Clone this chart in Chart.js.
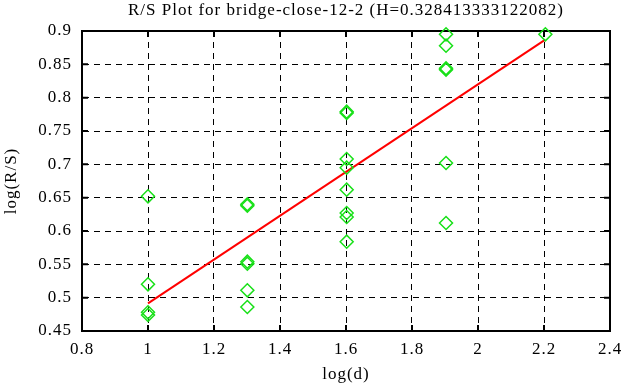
<!DOCTYPE html>
<html>
<head>
<meta charset="utf-8">
<title>R/S Plot</title>
<script src="https://cdn.jsdelivr.net/npm/chart.js@4/dist/chart.umd.min.js"></script>
<style>
  html, body { margin: 0; padding: 0; background: #fff; }
  #wrap { width: 626px; height: 387px; position: relative; }
  #chart { letter-spacing: 1px; }
</style>
</head>
<body>
<div id="wrap"><canvas id="chart"></canvas></div>
<script>
// log10 of window sizes 10, 20, 40, 80, 160
const X_LOG_D = [1, 1.30103, 1.60206, 1.90309, 2.20412];

// log(R/S) samples per window size
const RS_AT_10 = [0.652, 0.520, 0.478, 0.474];
const RS_AT_20 = [0.640, 0.638, 0.554, 0.551, 0.511, 0.486];
const RS_AT_40 = [0.779, 0.777, 0.708, 0.695, 0.662, 0.627, 0.621, 0.584];
const RS_AT_80 = [0.895, 0.878, 0.844, 0.842, 0.702, 0.612];
const RS_AT_160 = [0.895];

// fitted line, slope = H
const H = 0.328413333122082;
const FIT_X = [1, 2.20412];
const FIT_Y = [0.4915, 0.4915 + H * (2.20412 - 1)];

const X_TICKS = { min: 0.8, max: 2.4, step: 0.2 };
const Y_TICKS = { min: 0.45, max: 0.9, step: 0.05 };

const TITLE = 'R/S Plot for bridge-close-12-2 (H=' + H + ')';
const X_TITLE = 'log(d)';
const Y_TITLE = 'log(R/S)';

const FONT = { family: '"Liberation Serif", "Times New Roman", serif', size: 17, lineHeight: 1.2 };
const LETTER_SPACING = '1px';
const TICK_LEN = 6;
const DASH = [6, 5];

const groups = [RS_AT_10, RS_AT_20, RS_AT_40, RS_AT_80, RS_AT_160];
const points = [];
groups.forEach((vals, i) => vals.forEach(v => points.push({ x: X_LOG_D[i], y: v })));
const fitLine = FIT_X.map((x, i) => ({ x, y: FIT_Y[i] }));

// the reference font is a bit wide, so letters get extra spacing
function spaceLetters(chart) {
  if ('letterSpacing' in chart.ctx) chart.ctx.letterSpacing = LETTER_SPACING;
}

// inward ticks on all four sides plus the closed frame
const frameAndTicks = {
  id: 'frameAndTicks',
  beforeUpdate: spaceLetters,
  beforeLayout: spaceLetters,
  beforeDraw: spaceLetters,
  beforeDatasetsDraw(chart) {
    const { ctx, chartArea: a, scales: { x, y } } = chart;
    ctx.save();
    ctx.strokeStyle = '#000';
    ctx.lineWidth = 2;
    ctx.setLineDash([]);
    ctx.beginPath();
    x.ticks.forEach(t => {
      const px = x.getPixelForValue(t.value);
      ctx.moveTo(px, a.bottom); ctx.lineTo(px, a.bottom - TICK_LEN);
      ctx.moveTo(px, a.top); ctx.lineTo(px, a.top + TICK_LEN);
    });
    y.ticks.forEach(t => {
      const py = y.getPixelForValue(t.value);
      ctx.moveTo(a.left, py); ctx.lineTo(a.left + TICK_LEN, py);
      ctx.moveTo(a.right, py); ctx.lineTo(a.right - TICK_LEN, py);
    });
    ctx.stroke();
    ctx.strokeRect(a.left, a.top, a.width, a.height);
    ctx.restore();
  }
};

new Chart(document.getElementById('chart'), {
  type: 'scatter',
  plugins: [frameAndTicks],
  data: {
    datasets: [
      {
        label: 'R/S',
        data: points,
        showLine: false,
        pointStyle: 'rectRot',
        pointRadius: 6.5,
        pointHoverRadius: 6.5,
        pointBorderWidth: 1.5,
        pointBorderColor: '#18e018',
        pointBackgroundColor: 'rgba(0,0,0,0)',
        clip: false,
      },
      {
        label: 'fit',
        data: fitLine,
        showLine: true,
        borderColor: '#ff0000',
        borderWidth: 2,
        pointRadius: 0,
        fill: false,
      },
    ],
  },
  options: {
    responsive: true,
    maintainAspectRatio: false,
    animation: false,
    layout: { padding: { left: 0, right: 16, top: 0, bottom: 0 } },
    plugins: {
      legend: { display: false },
      tooltip: { enabled: false },
      title: {
        display: true,
        fullSize: false, // centre over the plot area, not the canvas
        text: TITLE,
        color: '#000',
        font: { ...FONT, weight: 'normal' },
        padding: { top: 0, bottom: 10.6 },
      },
    },
    scales: {
      x: {
        type: 'linear',
        min: X_TICKS.min,
        max: X_TICKS.max,
        afterFit(scale) {
          scale.height = 56;
          scale.paddingLeft = 0;
          scale.paddingRight = 0;
        },
        ticks: {
          stepSize: X_TICKS.step,
          color: '#000',
          font: FONT,
          padding: 8,
          callback: v => String(Number(v.toFixed(1))),
        },
        grid: { color: '#000', lineWidth: 1, drawTicks: false },
        border: { display: true, color: '#000', width: 2, dash: DASH },
        title: { display: true, text: X_TITLE, color: '#000', font: FONT, padding: { top: 0, bottom: 2 } },
      },
      y: {
        type: 'linear',
        min: Y_TICKS.min,
        max: Y_TICKS.max,
        afterFit(scale) {
          scale.width = 82;
          scale.paddingTop = 0;
          scale.paddingBottom = 0;
        },
        ticks: {
          stepSize: Y_TICKS.step,
          color: '#000',
          font: FONT,
          padding: 10,
          callback: v => String(Number(v.toFixed(2))),
        },
        grid: { color: '#000', lineWidth: 1, drawTicks: false },
        border: { display: true, color: '#000', width: 2, dash: DASH },
        title: { display: true, text: Y_TITLE, color: '#000', font: FONT, padding: { top: 1, bottom: 0 } },
      },
    },
  },
});
</script>
</body>
</html>
